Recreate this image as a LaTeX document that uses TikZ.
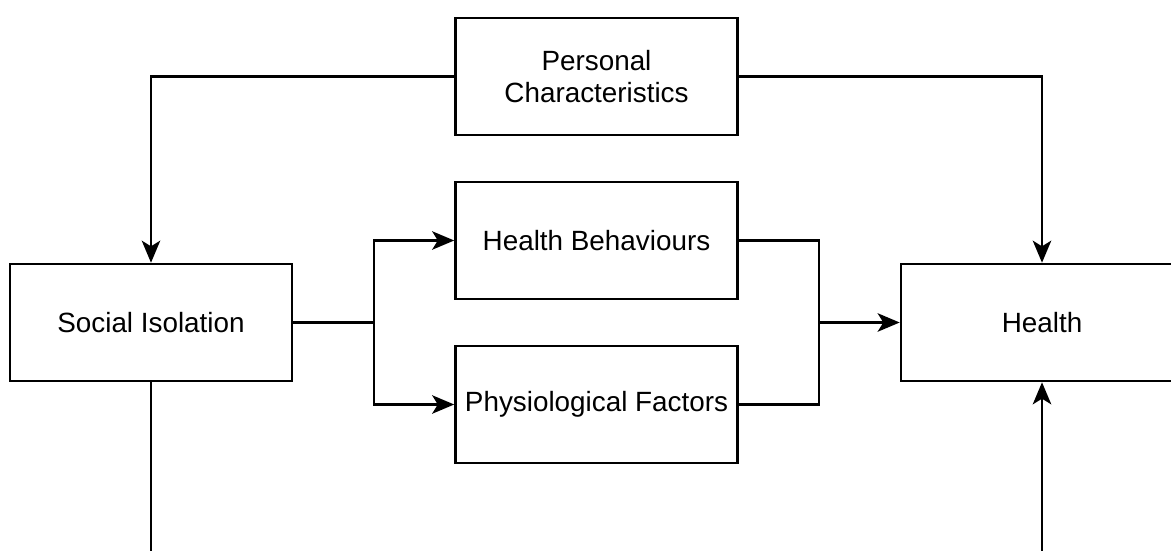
\documentclass[tikz,border=0pt]{standalone}
\usepackage{fontspec}
\setmainfont{Liberation Sans}
\usepackage{tikz}
\usetikzlibrary{arrows.meta}

\begin{document}
\begin{tikzpicture}[x=0.025cm, y=-0.025cm, every node/.style={font=\fontsize{19.8}{22.8}\selectfont}, >={Stealth[length=5.5mm, width=4.6mm, inset=1.4mm]}, factor/.style={draw, line width=1.8pt, minimum width=7.05cm, minimum height=2.925cm, align=center, inner sep=0pt}, every path/.style={line width=1.8pt}]
	\useasboundingbox (0,0) rectangle (1171,551);
	\node[factor] (pc) at (596.5,76.5) {Personal\\Characteristics};
	\node[factor] (hb) at (596.5,240.5) {Health Behaviours};
	\node[factor] (pf) at (596.5,404.5) {Physiological Factors};
	\node[factor] (si) at (151,322.5) {Social Isolation};
	\node[factor] (hl) at (1042,322.5) {Health};
	\coordinate (split) at (374,322.5);
	\coordinate (join) at (819,322.5);
	\coordinate (sib) at (151,551);
	\coordinate (hlb) at (1042,551);
	\draw[->] (pc.west) -| (si.north);
	\draw[->] (pc.east) -| (hl.north);
	\draw (si.east) -- (split);
	\draw[->] (split) |- (hb.west);
	\draw[->] (split) |- (pf.west);
	\draw (hb.east) -| (join);
	\draw (pf.east) -| (join);
	\draw[->] (join) -- (hl.west);
	\draw (si.south) -- (sib);
	\draw[->] (hlb) -- (hl.south);
\end{tikzpicture}
\end{document}
